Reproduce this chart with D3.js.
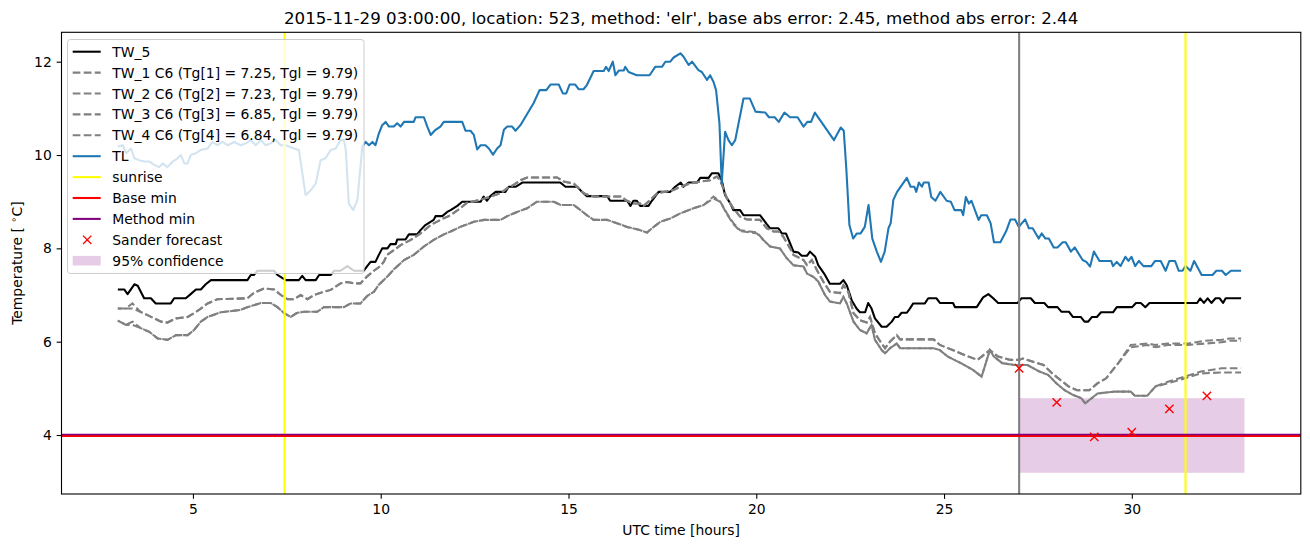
<!DOCTYPE html>
<html><head><meta charset="utf-8">
<script src="https://cdn.jsdelivr.net/npm/d3@7"></script>
<style>body{margin:0;background:#fff} text{font-family:"DejaVu Sans",sans-serif;fill:#000}</style>
</head><body><svg id="c" width="1310" height="547"></svg>
<script>
// ---------------- data (hours UTC, temperature °C) ----------------
const titleText = "2015-11-29 03:00:00, location: 523, method: 'elr', base abs error: 2.45, method abs error: 2.44";
const xTicks = [5, 10, 15, 20, 25, 30];
const yTicks = [4, 6, 8, 10, 12];

const tw5 = [[3.00,7.12],[3.17,7.12],[3.26,7.02],[3.44,7.23],[3.53,7.20],[3.70,6.93],[3.88,6.93],[4.01,6.82],[4.41,6.82],[4.50,6.93],[4.81,6.93],[4.94,7.02],[5.08,7.12],[5.21,7.12],[5.34,7.23],[5.48,7.32],[6.45,7.32],[6.54,7.43],[6.62,7.43],[6.72,7.52],[7.16,7.52],[7.25,7.43],[7.47,7.32],[7.82,7.32],[7.91,7.41],[8.00,7.32],[8.27,7.32],[8.36,7.43],[8.67,7.43],[8.76,7.52],[8.93,7.52],[9.11,7.62],[9.29,7.52],[9.55,7.52],[9.64,7.62],[9.73,7.71],[9.86,7.71],[9.95,7.86],[10.04,8.00],[10.18,8.00],[10.26,8.09],[10.40,8.09],[10.44,8.19],[10.66,8.19],[10.75,8.30],[10.97,8.30],[11.06,8.39],[11.19,8.50],[11.41,8.61],[11.46,8.69],[11.64,8.69],[11.77,8.78],[11.86,8.82],[12.04,8.91],[12.17,9.00],[12.66,9.00],[12.74,9.11],[12.83,9.02],[12.92,9.12],[13.06,9.21],[13.32,9.21],[13.41,9.32],[13.59,9.32],[13.77,9.41],[14.78,9.41],[14.92,9.32],[15.23,9.32],[15.36,9.21],[15.49,9.12],[16.03,9.12],[16.11,9.02],[16.56,9.02],[16.65,8.91],[16.73,9.02],[16.82,9.02],[16.91,8.91],[17.13,8.91],[17.22,9.02],[17.40,9.21],[17.71,9.21],[17.84,9.32],[17.99,9.41],[18.06,9.32],[18.20,9.41],[18.42,9.41],[18.51,9.51],[18.73,9.51],[18.82,9.61],[18.99,9.61],[19.08,9.46],[19.17,9.14],[19.31,8.96],[19.39,8.82],[19.57,8.82],[19.66,8.71],[20.10,8.71],[20.28,8.52],[20.37,8.43],[20.59,8.43],[20.68,8.32],[20.79,8.32],[20.90,8.11],[20.99,7.93],[21.12,7.91],[21.21,7.84],[21.35,7.84],[21.43,7.93],[21.57,7.82],[21.65,7.64],[21.83,7.43],[21.96,7.24],[22.23,7.24],[22.32,7.32],[22.41,7.21],[22.54,6.89],[22.67,6.71],[22.76,6.63],[22.90,6.63],[22.98,6.83],[23.07,6.71],[23.16,6.50],[23.34,6.32],[23.47,6.32],[23.61,6.43],[23.69,6.53],[23.78,6.53],[23.87,6.62],[24.01,6.62],[24.09,6.71],[24.18,6.82],[24.49,6.82],[24.58,6.93],[24.80,6.93],[24.89,6.83],[25.24,6.83],[25.29,6.74],[25.87,6.74],[26.04,6.95],[26.18,7.02],[26.31,6.93],[26.44,6.83],[26.96,6.83],[27.06,6.93],[27.31,6.93],[27.42,6.83],[27.67,6.83],[27.77,6.74],[28.02,6.74],[28.13,6.64],[28.33,6.64],[28.43,6.53],[28.64,6.53],[28.74,6.43],[28.84,6.43],[28.94,6.53],[29.07,6.53],[29.18,6.63],[29.50,6.63],[29.60,6.74],[30.01,6.74],[30.11,6.83],[30.24,6.83],[30.36,6.74],[30.47,6.83],[31.74,6.83],[31.82,6.93],[31.92,6.83],[32.02,6.93],[32.12,6.83],[32.23,6.93],[32.34,6.93],[32.43,6.83],[32.50,6.93],[32.91,6.93]];

const tw1 = [[3.00,6.71],[3.20,6.71],[3.39,6.82],[3.60,6.64],[3.79,6.57],[3.97,6.50],[4.15,6.43],[4.32,6.41],[4.55,6.50],[4.86,6.53],[5.03,6.61],[5.21,6.71],[5.39,6.82],[5.65,6.91],[6.45,6.93],[6.63,7.05],[6.89,7.14],[7.16,7.12],[7.34,7.00],[7.52,6.91],[7.69,6.91],[7.87,7.00],[8.05,6.91],[8.22,7.00],[8.49,7.07],[8.67,7.11],[8.93,7.25],[9.11,7.28],[9.29,7.25],[9.46,7.25],[9.64,7.40],[9.82,7.52],[9.99,7.62],[10.08,7.71],[10.17,7.86],[10.35,7.96],[10.53,8.07],[10.80,8.18],[11.06,8.32],[11.33,8.50],[11.59,8.61],[11.86,8.71],[12.12,8.86],[12.30,8.98],[12.66,9.04],[12.92,9.11],[13.19,9.18],[13.37,9.29],[13.54,9.36],[13.72,9.46],[13.90,9.52],[14.70,9.52],[14.87,9.43],[15.14,9.39],[15.40,9.18],[15.67,9.11],[16.43,9.11],[16.51,9.04],[16.73,8.96],[16.91,8.96],[17.00,8.91],[17.18,9.04],[17.36,9.18],[17.80,9.25],[17.98,9.32],[18.24,9.39],[18.51,9.43],[18.77,9.46],[18.95,9.54],[19.04,9.46],[19.22,9.07],[19.39,8.86],[19.57,8.68],[19.75,8.62],[20.10,8.61],[20.28,8.43],[20.46,8.36],[20.60,8.36],[20.72,8.25],[20.90,8.00],[20.99,7.86],[21.26,7.75],[21.35,7.64],[21.48,7.75],[21.61,7.54],[21.79,7.28],[21.96,7.07],[22.23,7.04],[22.32,7.21],[22.45,7.07],[22.59,6.61],[22.76,6.46],[22.94,6.41],[23.03,6.53],[23.16,6.18],[23.34,5.96],[23.43,5.86],[23.56,6.00],[23.74,6.14],[23.83,6.05],[24.72,6.05],[24.89,5.93],[25.23,5.82],[25.56,5.71],[25.89,5.61],[26.22,5.82],[26.44,5.68],[26.77,5.61],[26.99,5.61],[27.10,5.64],[27.65,5.50],[27.88,5.32],[28.10,5.18],[28.32,5.04],[28.54,4.96],[28.87,4.96],[29.09,5.11],[29.31,5.21],[29.64,5.54],[29.97,5.93],[30.41,5.96],[30.63,5.93],[30.96,5.96],[31.51,5.96],[31.95,6.02],[32.39,6.04],[32.61,6.07],[32.91,6.07]];

const tw2 = [[3.00,6.71],[3.20,6.71],[3.39,6.71],[3.60,6.64],[3.79,6.57],[3.97,6.50],[4.15,6.43],[4.32,6.41],[4.55,6.50],[4.86,6.53],[5.03,6.61],[5.21,6.71],[5.39,6.82],[5.65,6.91],[6.45,6.93],[6.63,7.05],[6.89,7.14],[7.16,7.12],[7.34,7.00],[7.52,6.91],[7.69,6.91],[7.87,7.00],[8.05,6.91],[8.22,7.00],[8.49,7.07],[8.67,7.11],[8.93,7.25],[9.11,7.28],[9.29,7.25],[9.46,7.25],[9.64,7.40],[9.82,7.52],[9.99,7.62],[10.08,7.71],[10.17,7.86],[10.35,7.96],[10.53,8.07],[10.80,8.18],[11.06,8.32],[11.33,8.50],[11.59,8.61],[11.86,8.71],[12.12,8.86],[12.30,8.98],[12.66,9.04],[12.92,9.11],[13.19,9.18],[13.37,9.29],[13.54,9.36],[13.72,9.46],[13.90,9.52],[14.70,9.52],[14.87,9.43],[15.14,9.39],[15.40,9.18],[15.67,9.11],[16.43,9.11],[16.51,9.04],[16.73,8.96],[16.91,8.96],[17.00,8.91],[17.18,9.04],[17.36,9.18],[17.80,9.25],[17.98,9.32],[18.24,9.39],[18.51,9.43],[18.77,9.46],[18.95,9.54],[19.04,9.46],[19.22,9.07],[19.39,8.86],[19.57,8.68],[19.75,8.62],[20.10,8.61],[20.28,8.43],[20.46,8.36],[20.60,8.36],[20.72,8.25],[20.90,8.00],[20.99,7.86],[21.26,7.75],[21.35,7.64],[21.48,7.75],[21.61,7.54],[21.79,7.28],[21.96,7.07],[22.23,7.04],[22.32,7.21],[22.45,7.07],[22.59,6.61],[22.76,6.46],[22.94,6.41],[23.03,6.53],[23.16,6.18],[23.34,5.96],[23.43,5.86],[23.56,6.00],[23.74,6.14],[23.83,6.05],[24.72,6.05],[24.89,5.93],[25.23,5.82],[25.56,5.71],[25.89,5.61],[26.22,5.82],[26.44,5.68],[26.77,5.61],[26.99,5.61],[27.10,5.64],[27.65,5.50],[27.88,5.32],[28.10,5.18],[28.32,5.04],[28.54,4.96],[28.87,4.96],[29.09,5.11],[29.31,5.21],[29.64,5.54],[29.97,5.88],[30.41,5.93],[30.63,5.88],[30.96,5.93],[31.51,5.93],[31.95,5.96],[32.39,5.99],[32.61,6.02],[32.91,6.02]];

const tw3 = [[3.00,6.45],[3.22,6.36],[3.39,6.43],[3.61,6.29],[3.84,6.21],[4.06,6.07],[4.32,6.04],[4.55,6.14],[4.86,6.14],[5.03,6.25],[5.21,6.43],[5.39,6.53],[5.74,6.63],[6.27,6.68],[6.45,6.74],[6.81,6.83],[7.07,6.83],[7.25,6.74],[7.43,6.61],[7.60,6.53],[7.78,6.62],[7.96,6.64],[8.31,6.64],[8.49,6.74],[9.02,6.74],[9.20,6.82],[9.46,6.82],[9.64,6.98],[9.82,7.07],[9.95,7.22],[10.17,7.39],[10.35,7.55],[10.62,7.75],[10.88,7.86],[11.15,8.04],[11.41,8.18],[11.68,8.30],[11.86,8.36],[12.12,8.46],[12.48,8.57],[12.75,8.61],[13.19,8.61],[13.37,8.69],[13.63,8.78],[13.90,8.86],[14.16,9.00],[14.61,9.00],[14.79,8.93],[15.14,8.93],[15.32,8.82],[15.49,8.71],[15.67,8.61],[16.03,8.61],[16.29,8.54],[16.56,8.46],[16.91,8.39],[17.09,8.34],[17.27,8.46],[17.45,8.57],[17.71,8.64],[17.98,8.75],[18.33,8.86],[18.60,8.93],[18.86,9.07],[19.04,9.00],[19.22,8.73],[19.39,8.52],[19.57,8.37],[20.02,8.32],[20.19,8.18],[20.37,8.04],[20.63,8.00],[20.81,7.79],[20.99,7.64],[21.26,7.61],[21.35,7.46],[21.52,7.39],[21.65,7.29],[21.83,7.00],[21.96,6.86],[22.23,6.82],[22.32,6.96],[22.41,6.82],[22.59,6.43],[22.76,6.25],[22.94,6.18],[23.07,6.36],[23.16,6.04],[23.34,5.82],[23.43,5.75],[23.56,5.86],[23.74,5.96],[23.83,5.86],[24.72,5.86],[24.89,5.82],[25.10,5.68],[25.45,5.54],[25.78,5.39],[26.00,5.25],[26.22,5.82],[26.33,5.68],[26.55,5.54],[26.88,5.50],[27.22,5.50],[27.54,5.36],[27.77,5.29],[27.99,5.11],[28.21,4.96],[28.43,4.86],[28.65,4.79],[28.76,4.68],[28.87,4.75],[29.09,4.89],[29.53,4.93],[29.97,4.93],[30.08,4.84],[30.41,4.84],[30.63,5.04],[30.96,5.11],[31.40,5.21],[31.84,5.32],[32.39,5.34],[32.91,5.34]];

const tw4 = [[3.00,6.45],[3.22,6.36],[3.39,6.36],[3.61,6.29],[3.84,6.21],[4.06,6.07],[4.32,6.04],[4.55,6.14],[4.86,6.14],[5.03,6.25],[5.21,6.43],[5.39,6.53],[5.74,6.63],[6.27,6.68],[6.45,6.74],[6.81,6.83],[7.07,6.83],[7.25,6.74],[7.43,6.61],[7.60,6.53],[7.78,6.62],[7.96,6.64],[8.31,6.64],[8.49,6.74],[9.02,6.74],[9.20,6.82],[9.46,6.82],[9.64,6.98],[9.82,7.07],[9.95,7.22],[10.17,7.39],[10.35,7.55],[10.62,7.75],[10.88,7.86],[11.15,8.04],[11.41,8.18],[11.68,8.30],[11.86,8.36],[12.12,8.46],[12.48,8.57],[12.75,8.61],[13.19,8.61],[13.37,8.69],[13.63,8.78],[13.90,8.86],[14.16,9.00],[14.61,9.00],[14.79,8.93],[15.14,8.93],[15.32,8.82],[15.49,8.71],[15.67,8.61],[16.03,8.61],[16.29,8.54],[16.56,8.46],[16.91,8.39],[17.09,8.34],[17.27,8.46],[17.45,8.57],[17.71,8.64],[17.98,8.75],[18.33,8.86],[18.60,8.93],[18.86,9.11],[19.04,9.00],[19.22,8.75],[19.39,8.54],[19.57,8.39],[20.02,8.34],[20.19,8.18],[20.37,8.04],[20.63,8.00],[20.81,7.79],[20.99,7.64],[21.26,7.61],[21.35,7.46],[21.52,7.39],[21.65,7.29],[21.83,7.00],[21.96,6.86],[22.23,6.82],[22.32,6.96],[22.41,6.82],[22.59,6.43],[22.76,6.25],[22.94,6.18],[23.07,6.36],[23.16,6.04],[23.34,5.82],[23.43,5.75],[23.56,5.86],[23.74,5.96],[23.83,5.86],[24.72,5.86],[24.89,5.82],[25.10,5.68],[25.45,5.54],[25.78,5.39],[26.00,5.25],[26.22,5.82],[26.33,5.68],[26.55,5.54],[26.88,5.50],[27.22,5.50],[27.54,5.36],[27.77,5.29],[27.99,5.11],[28.21,4.96],[28.43,4.86],[28.65,4.79],[28.76,4.68],[28.87,4.75],[29.09,4.89],[29.53,4.93],[29.97,4.93],[30.08,4.84],[30.41,4.84],[30.63,5.04],[30.96,5.14],[31.40,5.25],[31.84,5.36],[32.39,5.43],[32.91,5.43]];

const tl = [[3.00,10.18],[3.13,10.21],[3.22,10.04],[3.35,10.14],[3.44,9.93],[3.57,9.89],[3.70,9.86],[3.84,9.86],[3.97,9.79],[4.10,9.74],[4.19,9.82],[4.32,9.74],[4.46,9.86],[4.59,9.93],[4.68,10.00],[4.77,9.82],[4.86,9.82],[4.94,10.00],[5.08,10.04],[5.21,10.11],[5.39,10.14],[5.52,10.28],[5.65,10.21],[5.79,10.28],[5.92,10.21],[6.10,10.28],[6.27,10.21],[6.41,10.25],[6.54,10.32],[6.67,10.21],[6.81,10.32],[6.94,10.21],[7.07,10.25],[7.20,10.32],[7.34,10.21],[7.47,10.21],[7.69,10.14],[7.82,10.11],[8.00,9.14],[8.14,9.25],[8.27,9.39],[8.40,9.89],[8.53,9.93],[8.67,10.11],[8.80,10.14],[8.93,10.32],[9.02,10.32],[9.07,10.11],[9.15,8.96],[9.27,8.82],[9.38,9.04],[9.51,10.18],[9.60,10.28],[9.69,10.21],[9.78,10.28],[9.86,10.21],[9.95,10.46],[10.04,10.64],[10.13,10.71],[10.22,10.61],[10.35,10.61],[10.44,10.68],[10.53,10.61],[10.62,10.71],[10.88,10.71],[10.93,10.81],[11.15,10.81],[11.24,10.61],[11.33,10.43],[11.46,10.54],[11.59,10.61],[11.68,10.71],[12.17,10.71],[12.26,10.52],[12.39,10.52],[12.48,10.43],[12.57,10.12],[12.66,10.21],[12.79,10.21],[12.88,10.14],[12.99,10.01],[13.10,10.14],[13.19,10.21],[13.28,10.54],[13.37,10.61],[13.50,10.61],[13.59,10.52],[13.72,10.64],[14.07,11.11],[14.23,11.39],[14.41,11.39],[14.52,11.51],[14.74,11.51],[14.85,11.32],[14.94,11.32],[15.03,11.51],[15.18,11.51],[15.27,11.41],[15.40,11.41],[15.49,11.50],[15.67,11.80],[15.94,11.80],[16.00,11.89],[16.07,11.80],[16.18,12.00],[16.25,11.71],[16.34,11.81],[16.47,11.81],[16.51,11.89],[16.60,11.78],[16.82,11.71],[17.16,11.71],[17.31,11.89],[17.49,11.89],[17.58,12.00],[17.71,12.00],[17.80,12.09],[17.98,12.18],[18.06,12.11],[18.20,11.93],[18.29,12.00],[18.46,11.82],[18.55,11.78],[18.69,11.61],[18.77,11.71],[18.86,11.57],[18.93,11.39],[19.02,10.68],[19.08,9.39],[19.17,10.50],[19.26,10.32],[19.35,10.21],[19.44,10.32],[19.66,11.21],[19.83,11.21],[19.98,10.93],[20.24,10.91],[20.34,10.81],[20.49,10.81],[20.60,10.71],[20.75,10.91],[20.90,10.81],[21.10,10.81],[21.26,10.61],[21.36,10.71],[21.46,10.71],[21.56,10.91],[22.07,10.32],[22.25,10.59],[22.33,10.52],[22.40,9.68],[22.48,8.50],[22.58,8.21],[22.68,8.32],[22.78,8.32],[22.89,8.46],[22.99,8.93],[23.09,8.21],[23.21,7.93],[23.32,7.71],[23.42,7.93],[23.52,8.43],[23.58,8.54],[23.65,9.04],[23.75,9.21],[24.01,9.51],[24.11,9.32],[24.21,9.32],[24.26,9.21],[24.33,9.41],[24.41,9.32],[24.46,9.41],[24.59,9.41],[24.66,9.10],[24.77,9.02],[24.90,9.21],[25.07,9.02],[25.18,9.00],[25.28,8.82],[25.46,8.82],[25.51,8.71],[25.58,9.10],[25.66,8.96],[25.73,9.02],[25.92,8.61],[25.99,8.71],[26.14,8.71],[26.24,8.54],[26.33,8.13],[26.50,8.13],[26.65,8.36],[26.77,8.62],[26.89,8.62],[26.99,8.46],[27.16,8.62],[27.26,8.43],[27.36,8.43],[27.52,8.21],[27.60,8.32],[27.70,8.21],[27.79,8.21],[27.92,8.02],[28.02,8.02],[28.16,8.13],[28.24,8.13],[28.38,7.93],[28.48,8.02],[28.69,7.75],[28.79,7.71],[28.89,7.61],[28.99,7.93],[29.14,7.73],[29.45,7.73],[29.50,7.62],[29.60,7.71],[29.70,7.62],[29.83,7.82],[29.91,7.73],[29.99,7.82],[30.09,7.62],[30.19,7.73],[30.31,7.62],[30.52,7.62],[30.62,7.73],[30.77,7.73],[30.90,7.52],[31.00,7.73],[31.15,7.73],[31.25,7.52],[31.35,7.52],[31.43,7.62],[31.56,7.52],[31.66,7.73],[31.86,7.43],[32.15,7.43],[32.25,7.52],[32.40,7.52],[32.50,7.43],[32.64,7.52],[32.91,7.52]];

const sunrise = [7.44, 31.43];
const forecastTime = 27.0;
const baseMin = 3.98;
const methodMin = 4.01;
const sanderHours = [27, 28, 29, 30, 31, 32];
const sanderValues = [5.43, 4.70, 3.96, 4.06, 4.56, 4.84];
const confidence = {x0: 27.0, x1: 33.0, lo: 3.19, hi: 4.79};

const legendLabels = ["TW_5", "TW_1 C6 (Tg[1] = 7.25, Tgl = 9.79)", "TW_2 C6 (Tg[2] = 7.23, Tgl = 9.79)",
  "TW_3 C6 (Tg[3] = 6.85, Tgl = 9.79)", "TW_4 C6 (Tg[4] = 6.84, Tgl = 9.79)", "TL", "sunrise",
  "Base min", "Method min", "Sander forecast", "95% confidence"];

// ---------------- drawing ----------------
const svg = d3.select("#c");
svg.append("rect").attr("width",1310).attr("height",547).attr("fill","#fff");
const m = {l:61.5, t:32.3, r:1300.8, b:494};
const x = d3.scaleLinear().domain([1.5, 34.5]).range([m.l, m.r]);
const y = d3.scaleLinear().domain([2.736, 12.63]).range([m.b, m.t]);
const LW = 2.08, FS = "13.9px";

svg.append("defs").append("clipPath").attr("id","clip").append("rect")
  .attr("x",m.l).attr("y",m.t).attr("width",m.r-m.l).attr("height",m.b-m.t);
const g = svg.append("g").attr("clip-path","url(#clip)");

// confidence band (patch, below lines)
g.append("rect").attr("x",x(confidence.x0)).attr("width",x(confidence.x1)-x(confidence.x0))
  .attr("y",y(confidence.hi)).attr("height",y(confidence.lo)-y(confidence.hi))
  .attr("fill","purple").attr("fill-opacity",0.2);

const line = d3.line().x(d=>x(d[0])).y(d=>y(d[1]));
const dash = "7.7,3.33";
g.append("path").datum(tw5).attr("d",line).attr("fill","none").attr("stroke","#000").attr("stroke-width",LW).attr("stroke-linejoin","round");
[[tw1,0],[tw2,4],[tw3,1],[tw4,6]].forEach(([s,off])=>{
  g.append("path").datum(s).attr("d",line).attr("fill","none").attr("stroke","gray").attr("stroke-width",LW)
   .attr("stroke-dasharray",dash).attr("stroke-dashoffset",off);
});
g.append("path").datum(tl).attr("d",line).attr("fill","none").attr("stroke","#1f77b4").attr("stroke-width",LW).attr("stroke-linejoin","round");

sunrise.forEach(s=>g.append("line").attr("x1",x(s)).attr("x2",x(s)).attr("y1",m.t).attr("y2",m.b).attr("stroke","yellow").attr("stroke-width",LW));
g.append("line").attr("x1",x(forecastTime)).attr("x2",x(forecastTime)).attr("y1",m.t).attr("y2",m.b).attr("stroke","gray").attr("stroke-width",LW);
g.append("line").attr("x1",m.l).attr("x2",m.r).attr("y1",y(baseMin)).attr("y2",y(baseMin)).attr("stroke","red").attr("stroke-width",LW);
g.append("line").attr("x1",m.l).attr("x2",m.r).attr("y1",y(methodMin)).attr("y2",y(methodMin)).attr("stroke","purple").attr("stroke-width",LW*0.75);

const xmark = (sel, cx, cy, r) => sel.append("path")
  .attr("d",`M${cx-r},${cy-r}L${cx+r},${cy+r}M${cx-r},${cy+r}L${cx+r},${cy-r}`)
  .attr("stroke","red").attr("stroke-width",1.39).attr("fill","none");
sanderHours.forEach((h,i)=>xmark(g, x(h), y(sanderValues[i]), 4.17));

// axes
const TL_ = 4.86;
const xAxis = d3.axisBottom(x).tickValues(xTicks).tickSize(TL_).tickPadding(TL_).tickFormat(d3.format("d"));
const yAxis = d3.axisLeft(y).tickValues(yTicks).tickSize(TL_).tickPadding(TL_).tickFormat(d3.format("d"));
const gx = svg.append("g").attr("transform",`translate(0,${m.b})`).call(xAxis);
const gy = svg.append("g").attr("transform",`translate(${m.l},0)`).call(yAxis);
[gx,gy].forEach(a=>{
  a.select(".domain").remove();
  a.selectAll("line").attr("stroke","#000").attr("stroke-width",1.1);
  a.selectAll("text").attr("font-family","DejaVu Sans").attr("font-size",FS).attr("fill","#000");
});
svg.append("rect").attr("x",m.l).attr("y",m.t).attr("width",m.r-m.l).attr("height",m.b-m.t)
  .attr("fill","none").attr("stroke","#000").attr("stroke-width",1.1);

// texts
svg.append("text").attr("x",(m.l+m.r)/2).attr("y",24).attr("text-anchor","middle").attr("font-size","16.67px").text(titleText);
svg.append("text").attr("x",(m.l+m.r)/2).attr("y",535).attr("text-anchor","middle").attr("font-size",FS).text("UTC time [hours]");
const yl = svg.append("text").attr("transform",`translate(22,${(m.t+m.b)/2}) rotate(-90)`).attr("text-anchor","middle").attr("font-size",FS);
yl.append("tspan").text("Temperature [ ");
yl.append("tspan").attr("dy",-5).attr("font-size","9.7px").text("∘");
yl.append("tspan").attr("dy",5).text("C]");

// legend
const lg = svg.append("g");
lg.append("rect").attr("x",67.5).attr("y",39.5).attr("width",296.5).attr("height",234).attr("rx",3)
  .attr("fill","#fff").attr("fill-opacity",0.8).attr("stroke","#ccc").attr("stroke-width",1);
const styles = [
  {c:"#000"},{c:"gray",d:dash},{c:"gray",d:dash},{c:"gray",d:dash},{c:"gray",d:dash},
  {c:"#1f77b4"},{c:"yellow"},{c:"red"},{c:"purple"},{m:"x"},{p:true}];
legendLabels.forEach((lab,i)=>{
  const cy = 51.7 + i*20.9;
  const st = styles[i];
  if (st.p) {
    lg.append("rect").attr("x",72.7).attr("y",cy-4.8).attr("width",28).attr("height",9.6).attr("fill","purple").attr("fill-opacity",0.2);
  } else if (st.m) {
    xmark(lg, 87.2, cy, 4.17);
  } else {
    const l = lg.append("line").attr("x1",72.7).attr("x2",100.7).attr("y1",cy).attr("y2",cy).attr("stroke",st.c).attr("stroke-width",LW);
    if (st.d) l.attr("stroke-dasharray",st.d);
  }
  lg.append("text").attr("x",112.3).attr("y",cy+5).attr("font-size",FS).text(lab);
});
</script></body></html>
